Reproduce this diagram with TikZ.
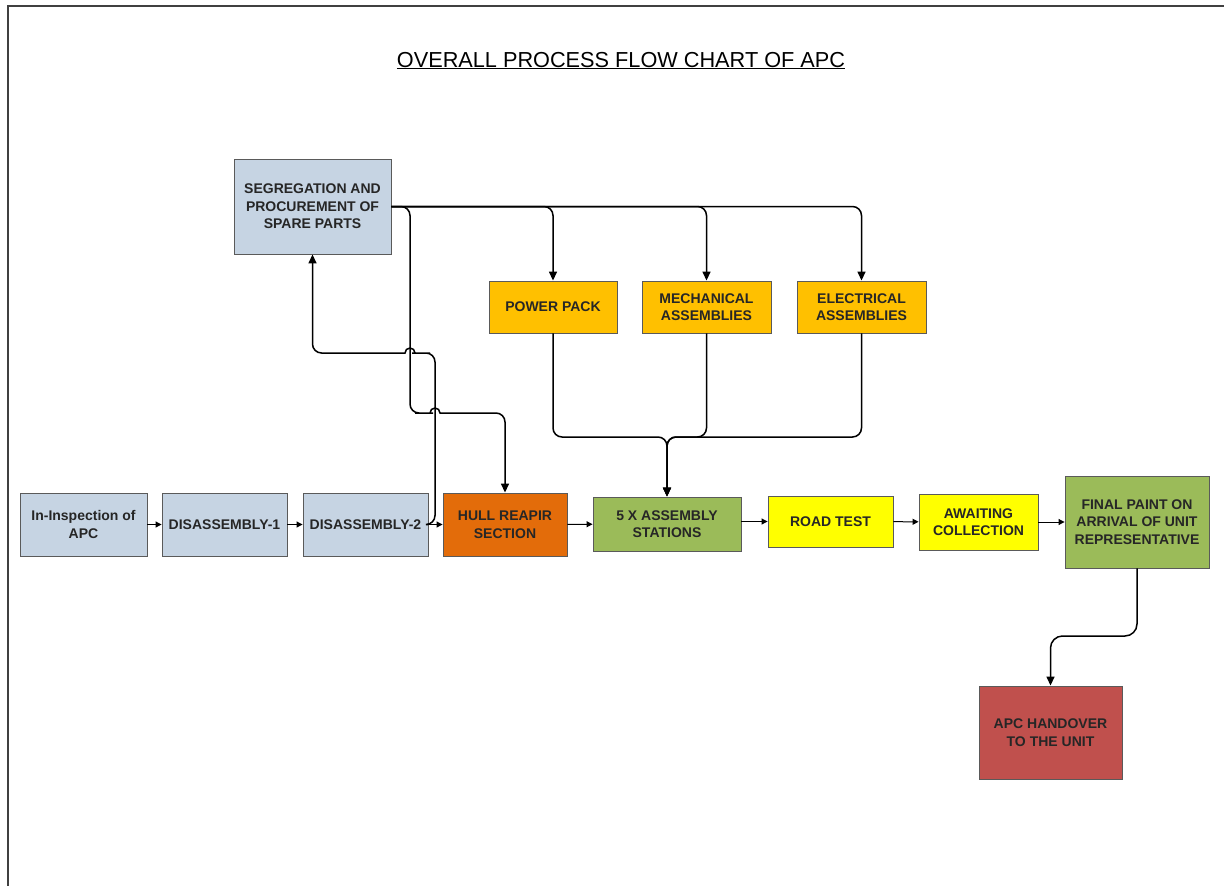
\documentclass[tikz,border=0pt]{standalone}
\usepackage{fontspec}
\setmainfont{Liberation Sans}
\usetikzlibrary{arrows.meta}

\definecolor{partsblue}{RGB}{198,212,227}
\definecolor{hullorange}{RGB}{227,108,10}
\definecolor{stationgreen}{RGB}{155,187,89}
\definecolor{testyellow}{RGB}{255,255,0}
\definecolor{packgold}{RGB}{255,192,0}
\definecolor{handred}{RGB}{192,80,77}
\definecolor{boxline}{RGB}{90,90,90}

\begin{document}
\begin{tikzpicture}[x=1pt,y=-1pt,
  box/.style={draw=boxline, line width=0.9pt, align=center, inner sep=2pt,
    text=black!85, font=\bfseries\fontsize{14}{17.5}\selectfont},
  chain/.style={draw, line width=1pt, -{Triangle[length=6pt,width=6pt]}},
  flow/.style={draw, line width=1.5pt, rounded corners=9pt, -{Triangle[length=9pt,width=8pt]}}]
\useasboundingbox (0,0) rectangle (1224,886);
\draw[line width=2pt, black!75] (8,886) -- (8,6) -- (1224,6);

\node[anchor=base, font=\fontsize{21.7}{26}\selectfont] (title) at (621,67) {\underline{OVERALL PROCESS FLOW CHART OF APC}};

% main line
\node[box, fill=partsblue, minimum width=127pt, minimum height=63pt, font=\bfseries\fontsize{14}{17.5}\selectfont] (inspect) at (83.5,524.5) {In-Inspection of\\APC};
\node[box, fill=partsblue, minimum width=125pt, minimum height=63pt] (dis1) at (224.5,524.5) {DISASSEMBLY-1};
\node[box, fill=partsblue, minimum width=125pt, minimum height=63pt] (dis2) at (365.5,524.5) {DISASSEMBLY-2};
\node[box, fill=hullorange, minimum width=124pt, minimum height=63pt] (hull) at (505,524.5) {HULL REAPIR\\SECTION};
\node[box, fill=stationgreen, minimum width=148pt, minimum height=54pt] (stations) at (667,524) {5 X ASSEMBLY\\STATIONS};
\node[box, fill=testyellow, minimum width=125pt, minimum height=51pt] (road) at (830.5,521.5) {ROAD TEST};
\node[box, fill=testyellow, minimum width=119pt, minimum height=56pt] (await) at (978.5,522) {AWAITING\\COLLECTION};
\node[box, fill=stationgreen, minimum width=144pt, minimum height=92pt] (final) at (1137,522) {FINAL PAINT ON\\ARRIVAL OF UNIT\\REPRESENTATIVE};
\node[box, fill=handred, minimum width=143pt, minimum height=93pt] (handover) at (1050.5,732.5) {APC HANDOVER\\TO THE UNIT};

% spares and sub-assemblies
\node[box, fill=partsblue, minimum width=157pt, minimum height=95pt] (seg) at (312.5,206.5) {SEGREGATION AND\\PROCUREMENT OF\\SPARE PARTS};
\node[box, fill=packgold, minimum width=128pt, minimum height=52pt] (pack) at (553,307) {POWER PACK};
\node[box, fill=packgold, minimum width=129pt, minimum height=52pt] (mech) at (706.5,307) {MECHANICAL\\ASSEMBLIES};
\node[box, fill=packgold, minimum width=129pt, minimum height=52pt] (elec) at (861.5,307) {ELECTRICAL\\ASSEMBLIES};

\draw[chain] (inspect) -- (dis1);
\draw[chain] (dis1) -- (dis2);
\draw[chain] (dis2) -- (hull);
\draw[chain] (hull) -- (stations);
\draw[chain] (stations.east |- road) -- (road);
\draw[chain] (road) -- (await);
\draw[chain] (await) -- (final);

\draw[flow] (seg.east) -| (pack.north);
\draw[flow] (seg.east) -| (mech.north);
\draw[flow] (seg.east) -| (elec.north);
\draw[flow] (seg.east) -- (410,206.5) -- (410,413) -- (424,413) [sharp corners] -- (430,413)
  arc (180:360:5) -- (446,413) [rounded corners=9pt] -- (505,413) -- (hull.north);
\draw[flow] (dis2.east) -- (435,524.5) -- (435,353) -- (421,353) [sharp corners] -- (415,353)
  arc (0:-180:5) -- (399,353) [rounded corners=9pt] -- (312.5,353) -- (seg.south);

\draw[flow] (pack.south) -- (553,437) -- (667,437) -- (stations.north);
\draw[flow] (mech.south) -- (706.5,437) -- (667,437) -- (stations.north);
\draw[flow] (elec.south) -- (861.5,437) -- (667,437) -- (stations.north);

\draw[flow, rounded corners=12pt] (final.south) -- (1137,636) -- (1050.5,636) -- (handover.north);
\end{tikzpicture}
\end{document}
